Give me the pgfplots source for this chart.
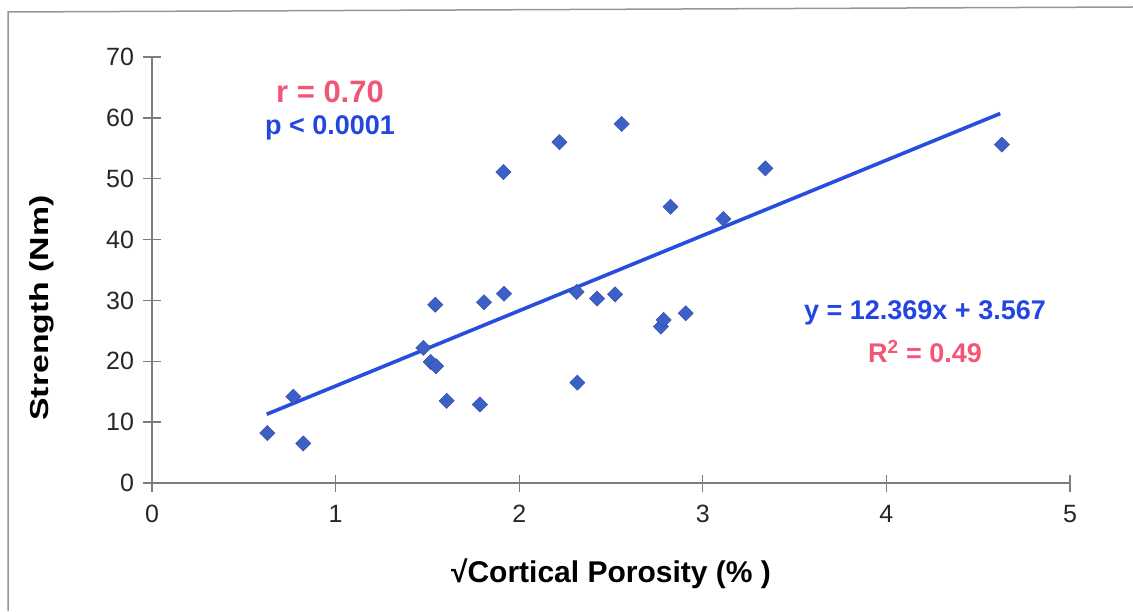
\documentclass[border=0pt]{standalone}
\usepackage{fontspec}
\setmainfont{Liberation Sans}
\usepackage{pgfplots}
\pgfplotsset{compat=1.18}
\usepackage{pgfplotstable}

\definecolor{markblue}{RGB}{60,95,200}
\definecolor{lineblue}{RGB}{40,78,222}
\definecolor{txtblue}{RGB}{35,70,225}
\definecolor{txtpink}{RGB}{242,85,118}
\definecolor{framegray}{RGB}{150,150,150}
\definecolor{axisgray}{RGB}{125,125,125}

% sqrt(cortical porosity) vs. strength
\pgfplotstableread{
x      y
0.628  8.2
0.770  14.2
0.824  6.5
1.478  22.2
1.518  19.9
1.547  19.2
1.543  29.3
1.605  13.5
1.786  12.9
1.808  29.7
1.917  31.1
1.914  51.1
2.219  56.0
2.313  31.4
2.317  16.5
2.424  30.3
2.522  31.0
2.558  59.0
2.772  25.7
2.787  26.8
2.907  27.9
2.824  45.4
3.112  43.4
3.341  51.7
4.629  55.6
}\strengthdata

% least-squares line y = 12.369x + 3.567 over the data range
\pgfplotstableread{
x      y
0.625  11.298
4.620  60.712
}\fitline

\begin{document}
\begin{tikzpicture}[x=1pt,y=1pt]
\path[use as bounding box] (0,0) rectangle (1133,611);
\draw[framegray, line width=1.5pt] (8,0) -- (8,599) -- (1133,604);

\begin{axis}[
  at={(152pt,128pt)}, anchor=south west,
  width=918pt, height=426pt, scale only axis,
  xmin=0, xmax=5, ymin=0, ymax=70,
  axis lines*=left,
  axis line style={axisgray, line width=1.3pt},
  xtick={0,1,...,5}, ytick={0,10,...,70},
  tick align=center, major tick length=17pt,
  tick style={axisgray, line width=1.3pt},
  /pgf/number format/assume math mode=true,
  ticklabel style={font=\fontsize{25}{28}\selectfont, text=black!85},
  xticklabel style={yshift=-10pt},
  yticklabel style={xshift=-6pt},
  xlabel={\bfseries √Cortical Porosity (\% )},
  xlabel style={font=\fontsize{30}{34}\selectfont, at={(axis description cs:0.5,-0.2136)}, anchor=center},
  ylabel={\bfseries\scalebox{1.3}[1]{Strength (Nm)}},
  ylabel style={font=\fontsize{26}{29}\selectfont, at={(axis description cs:-0.1198,0.411)}, anchor=center, rotate=0},
  clip=false,
]
\addplot[only marks, mark=square*, mark size=5.4pt,
  mark options={rotate=45, fill=markblue, draw=markblue!80!black, line width=0.4pt}]
  table[x=x, y=y] {\strengthdata};
\addplot[lineblue, line width=3.6pt, no marks] table[x=x, y=y] {\fitline};
\end{axis}

\node[txtpink, font=\fontsize{31}{34}\selectfont\bfseries] at (330,519) {r = 0.70};
\node[txtblue, font=\fontsize{27}{30}\selectfont\bfseries] at (330,483) {p < 0.0001};
\node[txtblue, font=\fontsize{27}{30}\selectfont\bfseries] at (925,298) {y = 12.369x + 3.567};
\node[txtpink, font=\fontsize{27}{30}\selectfont\bfseries] at (925,259) {R\textsuperscript{2} = 0.49};
\end{tikzpicture}
\end{document}
